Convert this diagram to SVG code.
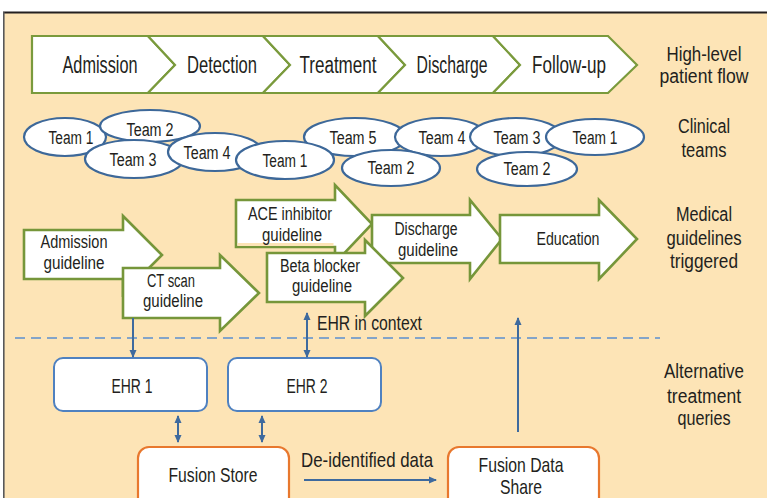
<svg xmlns="http://www.w3.org/2000/svg" width="767" height="498" viewBox="0 0 767 498">
<style>
  text { font-family: "Liberation Sans", Arial, sans-serif; fill: #231f20; text-anchor: middle; }
  .chev { fill: #ffffff; stroke: #7a9a3c; stroke-width: 2.2; stroke-linejoin: miter; }
  .blk { fill: #ffffff; stroke: #76963a; stroke-width: 2.6; stroke-linejoin: miter; }
  .team { fill: #ffffff; stroke: #3d6899; stroke-width: 2.2; }
  .ehr { fill: #ffffff; stroke: #4f81c0; stroke-width: 2; }
  .fus { fill: #ffffff; stroke: #e8782e; stroke-width: 2.2; }
  .conn { stroke: #3e6a9e; stroke-width: 2; fill: none; }
  .t23 { font-size: 23px; }
  .t21 { font-size: 21px; }
  .t20 { font-size: 20px; }
  .t19 { font-size: 19.5px; }
  .t18 { font-size: 18px; }
</style>
<defs>
  <marker id="ah" viewBox="0 0 8 8" refX="7" refY="4" markerWidth="8" markerHeight="8" markerUnits="userSpaceOnUse" orient="auto-start-reverse">
    <path d="M0,0.5 L8,4 L0,7.5 Z" fill="#3e6a9e"/>
  </marker>
</defs>
<rect x="0" y="0" width="767" height="498" fill="#ffffff"/>
<rect x="4" y="12" width="763" height="486" fill="#fde4b6"/>
<line x1="3" y1="12.5" x2="767" y2="12.5" stroke="#231f20" stroke-width="2"/>
<line x1="3.8" y1="12" x2="3.8" y2="498" stroke="#58585a" stroke-width="1.6"/>

<g id="flow">
  <g id="admission"><path class="chev" d="M32,36 H148 L175,65 L148,93 H32 Z"/><text class="t23" x="100" y="73" textLength="75" lengthAdjust="spacingAndGlyphs">Admission</text></g>
  <g id="detection"><path class="chev" d="M148,36 H263 L290,65 L263,93 H148 L175,65 Z"/><text class="t23" x="222" y="73" textLength="70" lengthAdjust="spacingAndGlyphs">Detection</text></g>
  <g id="treatment"><path class="chev" d="M263,36 H378 L405,65 L378,93 H263 L290,65 Z"/><text class="t23" x="338" y="73" textLength="77" lengthAdjust="spacingAndGlyphs">Treatment</text></g>
  <g id="discharge"><path class="chev" d="M378,36 H493 L520,65 L493,93 H378 L405,65 Z"/><text class="t23" x="452" y="73" textLength="71" lengthAdjust="spacingAndGlyphs">Discharge</text></g>
  <g id="followup"><path class="chev" d="M493,36 H608 L637,65 L608,93 H493 L520,65 Z"/><text class="t23" x="569" y="73" textLength="74" lengthAdjust="spacingAndGlyphs">Follow-up</text></g>
</g>

<g id="row-labels">
  <text class="t20" x="704" y="61" textLength="75" lengthAdjust="spacingAndGlyphs">High-level</text>
  <text class="t20" x="704" y="83" textLength="89" lengthAdjust="spacingAndGlyphs">patient flow</text>
  <text class="t20" x="704" y="133" textLength="52" lengthAdjust="spacingAndGlyphs">Clinical</text>
  <text class="t20" x="704" y="157" textLength="45" lengthAdjust="spacingAndGlyphs">teams</text>
  <text class="t20" x="704" y="221" textLength="56" lengthAdjust="spacingAndGlyphs">Medical</text>
  <text class="t20" x="704" y="245" textLength="75" lengthAdjust="spacingAndGlyphs">guidelines</text>
  <text class="t20" x="704" y="268" textLength="68" lengthAdjust="spacingAndGlyphs">triggered</text>
  <text class="t20" x="704" y="378" textLength="80" lengthAdjust="spacingAndGlyphs">Alternative</text>
  <text class="t20" x="704" y="403" textLength="74" lengthAdjust="spacingAndGlyphs">treatment</text>
  <text class="t20" x="704" y="425" textLength="53" lengthAdjust="spacingAndGlyphs">queries</text>
</g>

<g id="teams">
  <g id="team1a"><ellipse class="team" cx="65" cy="137" rx="41" ry="19"/><text class="t18" x="71" y="144" textLength="45" lengthAdjust="spacingAndGlyphs">Team 1</text></g>
  <g id="team2a"><ellipse class="team" cx="150" cy="126" rx="50" ry="16"/><text class="t18" x="150" y="136" textLength="47" lengthAdjust="spacingAndGlyphs">Team 2</text></g>
  <g id="team3a"><ellipse class="team" cx="134" cy="159" rx="49" ry="19"/><text class="t18" x="133" y="166" textLength="47" lengthAdjust="spacingAndGlyphs">Team 3</text></g>
  <g id="team4a"><ellipse class="team" cx="215" cy="152" rx="47" ry="19"/><text class="t18" x="207" y="159" textLength="47" lengthAdjust="spacingAndGlyphs">Team 4</text></g>
  <g id="team5"><ellipse class="team" cx="355" cy="137" rx="51" ry="19"/><text class="t18" x="353" y="144" textLength="47" lengthAdjust="spacingAndGlyphs">Team 5</text></g>
  <g id="team1b"><ellipse class="team" cx="285" cy="160" rx="49" ry="19"/><text class="t18" x="285" y="167" textLength="45" lengthAdjust="spacingAndGlyphs">Team 1</text></g>
  <g id="team4b"><ellipse class="team" cx="441" cy="137" rx="46" ry="19"/><text class="t18" x="442" y="144" textLength="47" lengthAdjust="spacingAndGlyphs">Team 4</text></g>
  <g id="team2b"><ellipse class="team" cx="391" cy="168" rx="49" ry="18"/><text class="t18" x="391" y="174" textLength="47" lengthAdjust="spacingAndGlyphs">Team 2</text></g>
  <g id="team3b"><ellipse class="team" cx="516" cy="137" rx="46" ry="19"/><text class="t18" x="517" y="144" textLength="47" lengthAdjust="spacingAndGlyphs">Team 3</text></g>
  <g id="team1c"><ellipse class="team" cx="595" cy="137" rx="49" ry="18"/><text class="t18" x="595" y="144" textLength="45" lengthAdjust="spacingAndGlyphs">Team 1</text></g>
  <g id="team2c"><ellipse class="team" cx="527" cy="169" rx="50" ry="17"/><text class="t18" x="527" y="175" textLength="47" lengthAdjust="spacingAndGlyphs">Team 2</text></g>
</g>

<g id="guidelines">
  <g id="g-admission"><path class="blk" d="M24,230 H123 V216 L162,255 L123,294 V279 H24 Z"/>
    <text class="t18" x="74" y="248" textLength="67" lengthAdjust="spacingAndGlyphs">Admission</text>
    <text class="t18" x="74" y="269" textLength="61" lengthAdjust="spacingAndGlyphs">guideline</text></g>
  <g id="g-ct"><path class="blk" d="M123,268 H220 V255 L259,293 L220,331 V318 H123 Z"/>
    <text class="t18" x="171" y="287" textLength="48" lengthAdjust="spacingAndGlyphs">CT scan</text>
    <text class="t18" x="173" y="307" textLength="60" lengthAdjust="spacingAndGlyphs">guideline</text></g>
  <g id="g-ace"><path class="blk" d="M236,200 H335 V185 L372,224 L335,263 V247 H236 Z"/>
    <rect x="237.5" y="243" width="96" height="3" fill="#fde4b6"/>
    <text class="t18" x="290" y="220" textLength="84" lengthAdjust="spacingAndGlyphs">ACE inhibitor</text>
    <text class="t18" x="292" y="241" textLength="60" lengthAdjust="spacingAndGlyphs">guideline</text></g>
  <g id="g-discharge"><path class="blk" d="M372,215 H470 V200 L502,239 L470,279 V263 H372 Z"/>
    <text class="t18" x="426" y="235" textLength="63" lengthAdjust="spacingAndGlyphs">Discharge</text>
    <text class="t18" x="428" y="256" textLength="60" lengthAdjust="spacingAndGlyphs">guideline</text></g>
  <g id="g-beta"><path class="blk" d="M267,253 H365 V240 L403,278 L365,316 V302 H267 Z"/>
    <text class="t18" x="320" y="272" textLength="80" lengthAdjust="spacingAndGlyphs">Beta blocker</text>
    <text class="t18" x="322" y="292" textLength="60" lengthAdjust="spacingAndGlyphs">guideline</text></g>
  <g id="g-education"><path class="blk" d="M500,215 H599 V200 L637,239 L599,279 V263 H500 Z"/>
    <text class="t18" x="568" y="245" textLength="63" lengthAdjust="spacingAndGlyphs">Education</text></g>
</g>

<line x1="15" y1="338" x2="660" y2="338" stroke="#5b8fcf" stroke-width="1.6" stroke-dasharray="10 6"/>

<g id="ehr1"><rect class="ehr" x="54" y="358" width="153" height="53" rx="9"/><text class="t20" x="132" y="393" textLength="41" lengthAdjust="spacingAndGlyphs">EHR 1</text></g>
<g id="ehr2"><rect class="ehr" x="228" y="358" width="153" height="53" rx="9"/><text class="t20" x="307" y="393" textLength="41" lengthAdjust="spacingAndGlyphs">EHR 2</text></g>
<g id="fusion-store"><rect class="fus" x="138" y="447" width="151" height="62" rx="11"/><text class="t21" x="213" y="482" textLength="89" lengthAdjust="spacingAndGlyphs">Fusion Store</text></g>
<g id="fusion-share"><rect class="fus" x="448" y="447" width="151" height="62" rx="11"/>
  <text class="t21" x="521" y="472" textLength="85" lengthAdjust="spacingAndGlyphs">Fusion Data</text>
  <text class="t21" x="521" y="494" textLength="42" lengthAdjust="spacingAndGlyphs">Share</text></g>

<g id="connectors">
  <line class="conn" x1="133" y1="318" x2="133" y2="357" marker-end="url(#ah)"/>
  <line class="conn" x1="307" y1="313" x2="307" y2="357" marker-start="url(#ah)" marker-end="url(#ah)"/>
  <line class="conn" x1="178" y1="416" x2="178" y2="442" marker-start="url(#ah)" marker-end="url(#ah)"/>
  <line class="conn" x1="262" y1="416" x2="262" y2="442" marker-start="url(#ah)" marker-end="url(#ah)"/>
  <line class="conn" x1="304" y1="480" x2="436" y2="480" marker-end="url(#ah)"/>
  <line class="conn" x1="518" y1="432" x2="518" y2="318" marker-end="url(#ah)"/>
  <text class="t19" x="369.5" y="330" textLength="105" lengthAdjust="spacingAndGlyphs">EHR in context</text>
  <text class="t21" x="367" y="467" textLength="132" lengthAdjust="spacingAndGlyphs">De-identified data</text>
</g>
</svg>
